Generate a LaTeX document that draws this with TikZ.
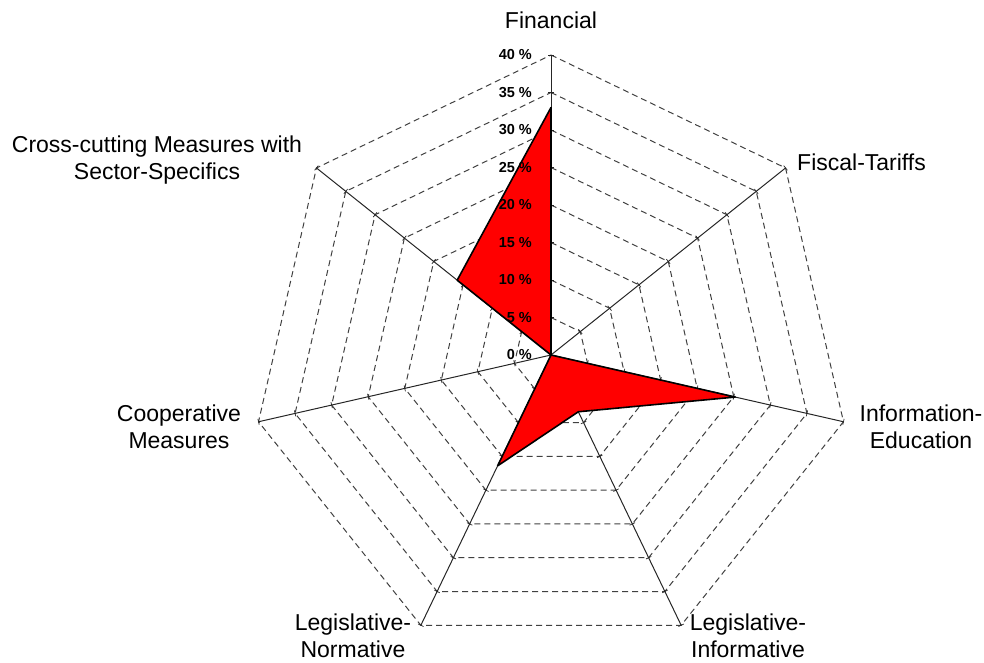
\documentclass[tikz,border=0pt]{standalone}
\usepackage{fontspec}
\setmainfont{Liberation Sans}

\begin{document}
\begin{tikzpicture}[
        axis/.style={draw=black!85, line width=1pt},
        ring/.style={draw=black!75, dash pattern=on 6pt off 4pt, line width=1pt},
        share/.style={fill=red, draw=black, line width=1.6pt, line join=round},
        axislabel/.style={font=\fontsize{23}{27}\selectfont, align=center, inner sep=0pt},
        pct/.style={font=\fontsize{14.5}{15}\selectfont\bfseries, anchor=east, inner sep=0pt}
    ]
        \useasboundingbox (-551pt,-307pt) rectangle (433pt,355pt);

        % dashed rings, 5 % apart
        \foreach \r in {37.5,75,...,300}
            \draw[ring] (90:\r pt) \foreach \k in {1,...,6} {-- (90-\k*360/7:\r pt)} -- cycle;

        % axes
        \coordinate (O) at (0,0);
        \coordinate (fin) at (90:300pt);
        \coordinate (fis) at (90-360/7:300pt);
        \coordinate (inf) at (90-2*360/7:300pt);
        \coordinate (lgi) at (90-3*360/7:300pt);
        \coordinate (lgn) at (90-4*360/7:300pt);
        \coordinate (coo) at (90-5*360/7:300pt);
        \coordinate (crs) at (90-6*360/7:300pt);

        \draw[axis] (O) -- (fin);
        \draw[axis] (O) -- (fis);
        \draw[axis] (O) -- (inf);
        \draw[axis] (O) -- (lgi);
        \draw[axis] (O) -- (lgn);
        \draw[axis] (O) -- (coo);
        \draw[axis] (O) -- (crs);

        % ticks on the axes
        \foreach \k in {0,...,6}
            \foreach \r in {37.5,75,...,300}
                \draw[axis, line width=0.7pt, shift={(90-\k*360/7:\r pt)}, rotate=90-\k*360/7] (0,-3pt) -- (0,3pt);

        % shares
        \draw[share] (90:247.5pt) -- (O) -- (90-2*360/7:189pt) -- (90-3*360/7:63pt)
            -- (90-4*360/7:123pt) -- (O) -- (90-6*360/7:120pt) -- cycle;

        % percent scale
        \foreach \v in {0,5,...,40}
            \node[pct] (p\v) at (-19pt,\v*7.5pt) {\v\ \%};

        % axis labels
        \node[axislabel] (lfin) at (0pt,335pt) {Financial};
        \node[axislabel, anchor=west] (lfis) at (246pt,193pt) {Fiscal-Tariffs};
        \node[axislabel] (linf) at (370pt,-72pt) {Information-\\Education};
        \node[axislabel] (llgi) at (197pt,-281pt) {Legislative-\\Informative};
        \node[axislabel] (llgn) at (-198pt,-281pt) {Legislative-\\Normative};
        \node[axislabel] (lcoo) at (-372pt,-72pt) {Cooperative\\Measures};
        \node[axislabel] (lcrs) at (-394pt,195pt) {Cross-cutting Measures with\\Sector-Specifics};
    \end{tikzpicture}
\end{document}
